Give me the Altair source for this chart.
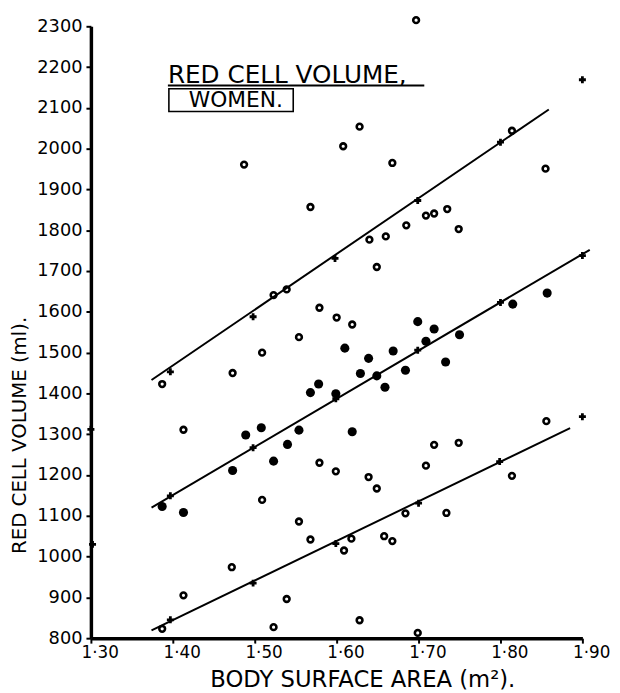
import json
import altair as alt
import pandas as pd

# ---------------- data ----------------
open_x = [1.487, 1.697, 1.628, 1.608, 1.668, 1.814, 1.855, 1.568, 1.640, 1.660,
          1.685, 1.709, 1.719, 1.735, 1.749, 1.649, 1.523, 1.539, 1.579, 1.600,
          1.619, 1.554, 1.509, 1.473, 1.387, 1.413, 1.509, 1.554, 1.568, 1.472,
          1.413, 1.539, 1.523, 1.387, 1.579, 1.599, 1.639, 1.649, 1.709, 1.719,
          1.749, 1.814, 1.856, 1.734, 1.684, 1.609, 1.618, 1.658, 1.668, 1.628,
          1.699]
open_y = [1961, 2315, 2054, 2006, 1965, 2044, 1951, 1857, 1777, 1785,
          1812, 1836, 1841, 1852, 1803, 1710, 1641, 1655, 1610, 1586,
          1569, 1538, 1500, 1450, 1423, 1311, 1139, 1086, 1042, 974,
          905, 896, 827, 823, 1230, 1209, 1195, 1167, 1223, 1274,
          1279, 1198, 1332, 1107, 1106, 1015, 1044, 1050, 1038, 844,
          813]

filled_x = [1.387, 1.413, 1.473, 1.489, 1.508, 1.523, 1.540, 1.554, 1.568, 1.578,
            1.599, 1.610, 1.619, 1.629, 1.639, 1.649, 1.659, 1.669, 1.684, 1.699,
            1.709, 1.719, 1.733, 1.750, 1.815, 1.857]
filled_y = [1123, 1108, 1211, 1298, 1316, 1234, 1275, 1310, 1402, 1423,
            1399, 1511, 1306, 1449, 1486, 1443, 1415, 1504, 1457, 1576,
            1528, 1558, 1477, 1544, 1619, 1646]

cross_x = [1.397, 1.498, 1.598, 1.699, 1.800, 1.900,
           1.397, 1.498, 1.599, 1.699, 1.800, 1.900,
           1.397, 1.498, 1.599, 1.700, 1.799, 1.900,
           1.300, 1.302]
cross_y = [1453, 1588, 1731, 1873, 2016, 2169,
           1149, 1267, 1387, 1506, 1623, 1738,
           845, 935, 1032, 1131, 1233, 1343,
           1312, 1030]

line_names = ["upper", "upper", "mean", "mean", "lower", "lower"]
line_x = [1.374, 1.859, 1.374, 1.909, 1.374, 1.885]
line_y = [1433, 2096, 1120, 1752, 819, 1315]

x_ticks = [1.30, 1.40, 1.50, 1.60, 1.70, 1.80, 1.90]
x_tick_labels = ["1·30", "1·40", "1·50", "1·60", "1·70", "1·80", "1·90"]
y_ticks = [800, 900, 1000, 1100, 1200, 1300, 1400, 1500, 1600, 1700,
           1800, 1900, 2000, 2100, 2200, 2300]

title_line1 = "RED CELL VOLUME,"
title_line2 = "WOMEN."
x_title = "BODY SURFACE AREA (m²)."
y_title = "RED CELL VOLUME (ml)."

# annotation anchor positions (data coordinates)
T1_X, T1_Y = 1.394, 2160
UL_X1, UL_X2, UL_Y = 1.394, 1.707, 2155
BOX_X1, BOX_X2, BOX_Y1, BOX_Y2 = 1.3952, 1.547, 2091, 2147
T2_X, T2_Y = 1.477, 2101

FONT = "DejaVu Sans"

# ---------------- tables ----------------
df_open = pd.DataFrame({"x": open_x, "y": open_y})
df_filled = pd.DataFrame({"x": filled_x, "y": filled_y})
df_cross = pd.DataFrame({"x": cross_x, "y": cross_y})
df_lines = pd.DataFrame({"line": line_names, "x": line_x, "y": line_y})

label_expr = json.dumps(x_tick_labels, ensure_ascii=False) + "[round((datum.value - 1.3) * 10)]"

xscale = alt.Scale(domain=[1.30, 1.90], nice=False, zero=False)
yscale = alt.Scale(domain=[800, 2300], nice=False, zero=False)

xaxis = alt.Axis(values=x_ticks, labelExpr=label_expr, grid=False,
                 domainColor="black", domainWidth=3.5, tickColor="black",
                 tickWidth=2, tickSize=5, labelFont=FONT, labelFontSize=17,
                 labelColor="black", labelPadding=2, labelOffset=9,
                 labelFlush=False, labelOverlap=False,
                 title=x_title, titleFont=FONT, titleFontSize=23,
                 titleFontWeight="normal", titleColor="black",
                 titleX=275, titleY=49, titleAlign="center",
                 titleBaseline="alphabetic")
yaxis = alt.Axis(values=y_ticks, format="d", grid=False,
                 domainColor="black", domainWidth=3.5, tickColor="black",
                 tickWidth=2, tickSize=5, labelFont=FONT, labelFontSize=18,
                 labelColor="black", labelPadding=4, labelFlush=False,
                 labelOverlap=False,
                 title=y_title, titleFont=FONT, titleFontSize=20,
                 titleFontWeight="normal", titleColor="black",
                 titleX=-72, titleY=414, titleAngle=270, titleAlign="center",
                 titleBaseline="middle")

X = alt.X("x:Q", scale=xscale, axis=xaxis)
Y = alt.Y("y:Q", scale=yscale, axis=yaxis)

lines = alt.Chart(df_lines).mark_line(color="black", strokeWidth=2).encode(
    x=X, y=Y, detail="line:N")

opens = alt.Chart(df_open).mark_point(shape="circle", filled=False, color="black",
                                      strokeWidth=2.6, size=34, opacity=1).encode(x=X, y=Y)

filleds = alt.Chart(df_filled).mark_point(shape="circle", filled=True, color="black",
                                          size=85, opacity=1).encode(x=X, y=Y)

crosses = alt.Chart(df_cross).mark_point(shape="cross", filled=True, color="black",
                                         size=50, opacity=1).encode(x=X, y=Y)

df_t1 = pd.DataFrame({"x": [T1_X], "y": [T1_Y], "t": [title_line1]})
t1 = alt.Chart(df_t1).mark_text(font=FONT, fontSize=25, align="left",
                                baseline="alphabetic", color="black").encode(
    x=X, y=Y, text="t:N")

df_ul = pd.DataFrame({"x": [UL_X1], "x2": [UL_X2], "y": [UL_Y]})
ul = alt.Chart(df_ul).mark_rule(color="black", strokeWidth=2).encode(
    x=X, x2="x2:Q", y=Y)

df_box = pd.DataFrame({"x": [BOX_X1], "x2": [BOX_X2], "y": [BOX_Y1], "y2": [BOX_Y2]})
box = alt.Chart(df_box).mark_rect(fill=None, fillOpacity=0, stroke="black",
                                  strokeWidth=1.6).encode(
    x=X, x2="x2:Q", y=Y, y2="y2:Q")

df_t2 = pd.DataFrame({"x": [T2_X], "y": [T2_Y], "t": [title_line2]})
t2 = alt.Chart(df_t2).mark_text(font=FONT, fontSize=22, align="center",
                                baseline="alphabetic", color="black").encode(
    x=X, y=Y, text="t:N")

chart = alt.layer(lines, opens, filleds, crosses, ul, box, t1, t2).properties(
    width=498, height=620,
    autosize=alt.AutoSizeParams(type="none"),
    padding={"left": 84, "top": 14, "right": 30, "bottom": 51},
    background="white",
).configure_view(stroke=None)

chart.save("out.html", embed_options={"renderer": "svg", "actions": False})
